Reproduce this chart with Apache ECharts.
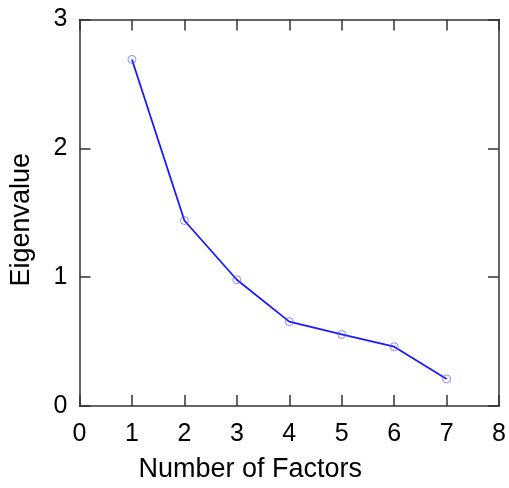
<!DOCTYPE html>
<html>
<head>
<meta charset="utf-8">
<script src="https://cdn.jsdelivr.net/npm/echarts@6/dist/echarts.min.js"></script>
<style>
  html, body { margin: 0; padding: 0; background: #fff; }
  #chart { width: 509px; height: 488px; }
</style>
</head>
<body>
<div id="chart"></div>
<script>
var factors = [1, 2, 3, 4, 5, 6, 7];
var eigenvalues = [2.69, 1.44, 0.98, 0.655, 0.555, 0.46, 0.21];

var axisColor = '#333333';
var fontFamily = 'Liberation Sans, Arial, sans-serif';

var myChart = echarts.init(document.getElementById('chart'));

function boxAxis(show, margin) {
    return {
        axisLine: { show: true, onZero: false, lineStyle: { color: axisColor, width: 1.5 } },
        axisTick: { show: true, inside: true, length: 11, lineStyle: { color: axisColor, width: 1.5 } },
        splitLine: { show: false },
        axisLabel: {
            show: show,
            margin: margin,
            color: '#000',
            fontSize: 25,
            fontFamily: fontFamily
        }
    };
}

var option = {
    animation: false,
    backgroundColor: '#fff',
    grid: { left: 79.5, right: 8.5, top: 19.5, bottom: 81 },
    xAxis: [
        Object.assign({
            type: 'value', position: 'bottom', min: 0, max: 8, interval: 1,
            name: 'Number of Factors', nameLocation: 'middle', nameGap: 50,
            nameTextStyle: { color: '#000', fontSize: 27, fontFamily: fontFamily, padding: [0, 78, 0, 0] }
        }, boxAxis(true, 16)),
        Object.assign({
            type: 'value', position: 'top', min: 0, max: 8, interval: 1
        }, boxAxis(false, 8))
    ],
    yAxis: [
        Object.assign({
            type: 'value', position: 'left', min: 0, max: 3, interval: 1,
            name: 'Eigenvalue', nameLocation: 'middle', nameGap: 44,
            nameTextStyle: { color: '#000', fontSize: 27, fontFamily: fontFamily, padding: [0, 14, 0, 0] }
        }, boxAxis(true, 12)),
        Object.assign({
            type: 'value', position: 'right', min: 0, max: 3, interval: 1
        }, boxAxis(false, 8))
    ],
    series: [{
        type: 'line',
        data: factors.map(function (f, i) { return [f, eigenvalues[i]]; }),
        symbol: 'circle',
        symbolSize: 8,
        showSymbol: true,
        lineStyle: { color: '#1a1aff', width: 1.8 },
        itemStyle: { color: 'rgba(255,255,255,0)', borderColor: 'rgba(90,90,255,0.7)', borderWidth: 1 }
    }]
};

myChart.setOption(option);
</script>
</body>
</html>
